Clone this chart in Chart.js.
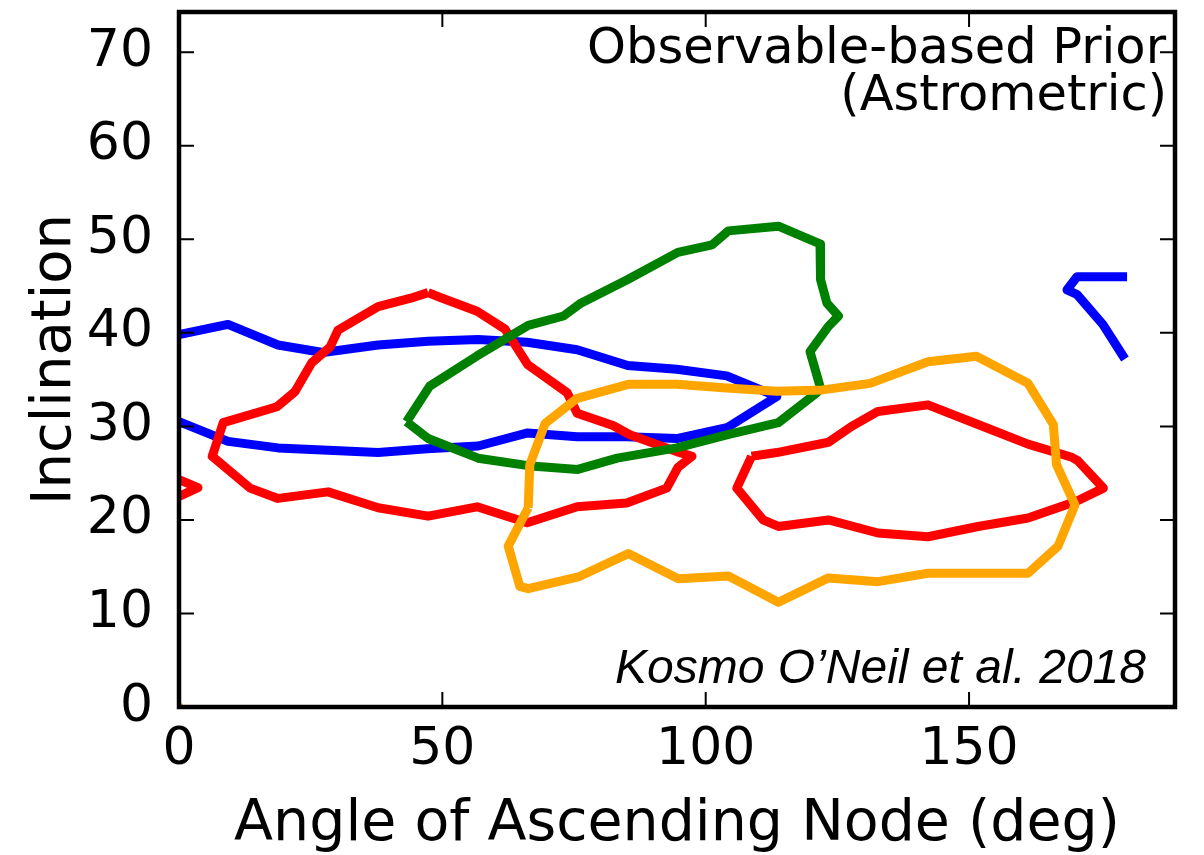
<!DOCTYPE html>
<html>
<head>
<meta charset="utf-8">
<script src="https://cdn.jsdelivr.net/npm/chart.js@4.4.1/dist/chart.umd.min.js"></script>
<style>
  html, body { margin: 0; padding: 0; background: #fff; }
  #wrap { width: 1204px; height: 855px; }
</style>
</head>
<body>
<div id="wrap"><canvas id="chart" width="1204" height="855"></canvas></div>
<script>
// tick values
const xTicks = [0, 50, 100, 150];
const yTicks = [0, 10, 20, 30, 40, 50, 60, 70];

// blue contour (main band) and its fragment at the right edge
const blueX = [0, 9.3, 18.8, 27.3, 37.8, 47.3, 56.8, 66.1, 75.6, 85.2, 94.5, 104.0, 113.5, 104.2, 94.5, 85.0, 75.6, 66.2, 56.8, 47.1, 37.8, 18.8, 9.3, 2.7, 0];
const blueY = [39.8, 40.9, 38.7, 37.9, 38.7, 39.1, 39.3, 39.0, 38.2, 36.5, 36.1, 35.4, 33.2, 29.9, 28.7, 28.9, 28.9, 29.3, 27.9, 27.6, 27.2, 27.7, 28.4, 29.9, 30.5];
const blue2X = [180, 170.5, 168.6, 170.5, 175.4, 179.6];
const blue2Y = [46.0, 46.0, 44.6, 44.1, 40.9, 37.2];

// red contours
const redAX = [0, 3.6, 0];
const redAY = [24.3, 23.45, 22.5];
const redBX = [47.3, 44.0, 37.8, 30.2, 28.7, 25.2, 22.0, 18.6, 8.4, 6.3, 13.5, 18.8, 28.3, 37.8, 47.3, 56.6, 66.1, 75.6, 85.0, 92.6, 94.7, 97.4, 94.5, 85.6, 82.4, 75.6, 73.7, 66.2, 61.9, 56.6, 49.5, 47.3];
const redBY = [44.3, 43.7, 42.8, 40.3, 38.5, 36.8, 33.7, 32.1, 30.4, 26.8, 23.4, 22.3, 23.0, 21.3, 20.4, 21.4, 19.7, 21.4, 21.8, 23.4, 25.6, 26.8, 27.3, 29.1, 30.1, 31.4, 33.6, 36.6, 40.4, 42.3, 43.8, 44.3];
const redCX = [108.7, 113.5, 123.3, 127.7, 132.7, 142.2, 151.7, 161.2, 169.5, 170.7, 175.5, 170.4, 161.2, 151.7, 142.2, 132.7, 123.3, 113.8, 110.9, 105.9, 108.7];
const redCY = [26.8, 27.2, 28.3, 30.0, 31.6, 32.3, 30.2, 28.1, 26.7, 26.3, 23.4, 22.0, 20.2, 19.3, 18.2, 18.6, 20.0, 19.3, 20.0, 23.4, 26.8];

// green contour
const greenX = [43.2, 47.6, 56.5, 66.3, 73.0, 76.1, 85.2, 94.7, 101.2, 104.3, 113.8, 121.7, 121.8, 123.0, 125.2, 123.3, 119.8, 121.7, 121.1, 113.8, 104.0, 94.5, 83.2, 75.7, 66.3, 56.8, 47.3, 43.2];
const greenY = [30.5, 34.3, 37.5, 40.8, 41.8, 43.1, 45.7, 48.6, 49.4, 50.9, 51.4, 49.5, 45.7, 43.2, 41.8, 40.7, 38.0, 34.3, 33.6, 30.4, 29.1, 27.7, 26.6, 25.4, 25.8, 26.6, 28.7, 30.5];

// orange contour and the dot at the origin
const orangeX = [66.3, 66.6, 69.5, 75.6, 85.3, 94.5, 104.0, 113.6, 122.2, 131.2, 142.2, 151.4, 161.2, 166.0, 166.6, 170.1, 166.9, 161.2, 151.7, 142.2, 132.7, 123.3, 113.8, 104.3, 94.8, 85.3, 75.8, 66.3, 64.7, 62.5, 66.3];
const orangeY = [21.3, 25.9, 30.3, 33.0, 34.5, 34.5, 34.1, 33.75, 33.9, 34.6, 36.9, 37.5, 34.6, 30.2, 25.9, 21.6, 17.2, 14.3, 14.3, 14.3, 13.4, 13.8, 11.2, 14.0, 13.7, 16.4, 13.9, 12.65, 12.9, 17.2, 21.3];
const dotX = [0];
const dotY = [0];

const zip = (xs, ys) => xs.map((v, i) => ({ x: v, y: ys[i] }));

function contour(xs, ys, color) {
    return {
        data: zip(xs, ys),
        showLine: true,
        borderColor: color,
        backgroundColor: color,
        borderWidth: 9,
        borderJoinStyle: 'round',
        pointRadius: 0,
        pointHoverRadius: 0,
        fill: false,
        tension: 0,
        clip: 0
    };
}

// frame, inward ticks and the text labels
const overlay = {
    id: 'overlay',
    afterDatasetsDraw(chart) {
        const { ctx, chartArea: a, scales: { x, y } } = chart;
        ctx.save();
        ctx.strokeStyle = '#000';
        ctx.lineWidth = 2;
        ctx.beginPath();
        xTicks.forEach(v => {
            const px = x.getPixelForValue(v);
            ctx.moveTo(px, a.bottom); ctx.lineTo(px, a.bottom - 15);
            ctx.moveTo(px, a.top); ctx.lineTo(px, a.top + 15);
        });
        yTicks.forEach(v => {
            const py = y.getPixelForValue(v);
            ctx.moveTo(a.left, py); ctx.lineTo(a.left + 15, py);
            ctx.moveTo(a.right, py); ctx.lineTo(a.right - 15, py);
        });
        ctx.stroke();
        ctx.lineWidth = 4.5;
        ctx.strokeRect(a.left, a.top, a.right - a.left, a.bottom - a.top);

        ctx.fillStyle = '#000';
        ctx.textAlign = 'right';
        ctx.textBaseline = 'alphabetic';
        ctx.font = '49.5px "DejaVu Sans"';
        ctx.fillText('Observable-based Prior', 1166, 63);
        ctx.fillText('(Astrometric)', 1167, 110);

        ctx.font = 'italic 48px "Liberation Sans"';
        ctx.fillText('Kosmo O\u2019Neil et al. 2018', 1146, 683);

        ctx.textAlign = 'center';
        ctx.font = '57px "DejaVu Sans"';
        ctx.fillText('Angle of Ascending Node (deg)', (a.left + a.right) / 2, 840);
        ctx.save();
        ctx.font = '56px "DejaVu Sans"';
        ctx.translate(70, (a.top + a.bottom) / 2);
        ctx.rotate(-Math.PI / 2);
        ctx.fillText('Inclination', 0, 0);
        ctx.restore();
        ctx.restore();
    }
};

const tickFont = { family: 'DejaVu Sans', size: 52 };

new Chart(document.getElementById('chart').getContext('2d'), {
    type: 'scatter',
    data: {
        datasets: [
            {
                data: zip(dotX, dotY),
                pointRadius: 4.5,
                pointBorderWidth: 0,
                backgroundColor: '#ffa500',
                borderColor: '#ffa500',
                clip: 0
            },
            contour(orangeX, orangeY, '#ffa500'),
            contour(greenX, greenY, '#008000'),
            contour(redAX, redAY, '#ff0000'),
            contour(redBX, redBY, '#ff0000'),
            contour(redCX, redCY, '#ff0000'),
            contour(blueX, blueY, '#0000ff'),
            contour(blue2X, blue2Y, '#0000ff')
        ]
    },
    options: {
        responsive: false,
        animation: false,
        events: [],
        layout: { padding: { top: 12, right: 29, bottom: 0, left: 0 } },
        plugins: {
            legend: { display: false },
            tooltip: { enabled: false },
            title: { display: false }
        },
        scales: {
            x: {
                type: 'linear',
                position: 'bottom',
                min: 0,
                max: 189.1,
                grid: { display: false },
                border: { display: false },
                ticks: { font: tickFont, color: '#000', padding: 4, maxRotation: 0, autoSkip: false },
                afterBuildTicks: (scale) => { scale.ticks = xTicks.map(v => ({ value: v })); },
                afterFit: (scale) => {
                    scale.height = 148;
                    scale.paddingLeft = 0; scale.paddingRight = 0;
                    scale.paddingTop = 0; scale.paddingBottom = 0;
                }
            },
            y: {
                type: 'linear',
                min: 0,
                max: 74.3,
                grid: { display: false },
                border: { display: false },
                ticks: { font: tickFont, color: '#000', padding: 18, autoSkip: false },
                afterBuildTicks: (scale) => { scale.ticks = yTicks.map(v => ({ value: v })); },
                afterFit: (scale) => {
                    scale.width = 179;
                    scale.paddingLeft = 0; scale.paddingRight = 0;
                    scale.paddingTop = 0; scale.paddingBottom = 0;
                }
            }
        }
    },
    plugins: [overlay]
});
</script>
</body>
</html>
